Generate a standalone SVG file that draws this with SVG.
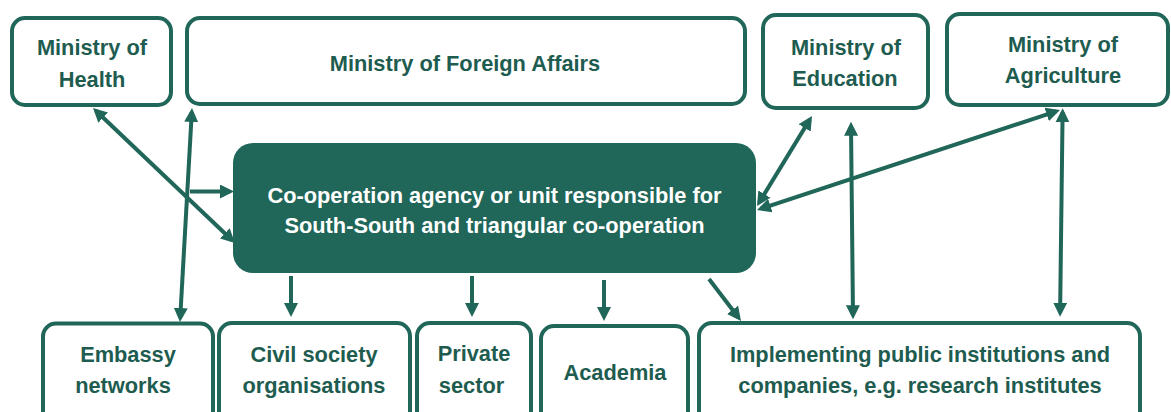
<svg xmlns="http://www.w3.org/2000/svg" width="1171" height="412" viewBox="0 0 1171 412">
  <style>
    .box { fill: #ffffff; stroke: #206659; stroke-width: 4; }
    .hub { fill: #206659; }
    .lbl { font-family: "Liberation Sans", Arial, sans-serif; font-weight: bold; font-size: 21.8px; fill: #1e5c50; text-anchor: middle; }
    .hubtxt { fill: #ffffff; }
    .link { stroke: #206659; stroke-width: 4; fill: none; }
    .both { marker-start: url(#ah); marker-end: url(#ah); }
    .one { marker-end: url(#ah); }
  </style>
  <defs>
    <marker id="ah" viewBox="0 0 14 14" markerWidth="14" markerHeight="14" refX="10" refY="7" orient="auto-start-reverse" markerUnits="userSpaceOnUse">
      <path d="M0,0 L14,7 L0,14 z" fill="#206659"/>
    </marker>
  </defs>

  <rect width="1171" height="412" fill="#ffffff"/>

  <!-- connectors -->
  <g id="connectors">
    <line class="link both" x1="95.9" y1="110.8" x2="232.1" y2="240.2"/>
    <line class="link both" x1="191.8" y1="112" x2="180.2" y2="318"/>
    <line class="link one" x1="190" y1="191.5" x2="230" y2="191.5"/>
    <line class="link one" x1="291" y1="276" x2="291" y2="313"/>
    <line class="link one" x1="472" y1="276" x2="472" y2="313"/>
    <line class="link one" x1="604" y1="280" x2="604" y2="317"/>
    <line class="link one" x1="709" y1="279" x2="738.6" y2="317.8"/>
    <line class="link both" x1="809.9" y1="119.4" x2="759.1" y2="202.6"/>
    <line class="link both" x1="1056.2" y1="111.3" x2="760.8" y2="208.7"/>
    <line class="link both" x1="851" y1="125.7" x2="853" y2="315.3"/>
    <line class="link both" x1="1062.6" y1="112.3" x2="1060.1" y2="312.7"/>
  </g>

  <!-- ministries -->
  <g id="health">
    <rect class="box" x="12" y="18" width="159" height="87" rx="13"/>
    <text class="lbl" x="92" y="55">Ministry of</text>
    <text class="lbl" x="92" y="86.5">Health</text>
  </g>
  <g id="foreign-affairs">
    <rect class="box" x="187" y="18" width="558" height="86" rx="13"/>
    <text class="lbl" x="465" y="71">Ministry of Foreign Affairs</text>
  </g>
  <g id="education">
    <rect class="box" x="763" y="15" width="165" height="93" rx="13"/>
    <text class="lbl" x="846" y="55">Ministry of</text>
    <text class="lbl" x="845" y="86">Education</text>
  </g>
  <g id="agriculture">
    <rect class="box" x="947" y="14" width="221" height="91" rx="13"/>
    <text class="lbl" x="1063" y="52">Ministry of</text>
    <text class="lbl" x="1063" y="83">Agriculture</text>
  </g>

  <!-- central agency -->
  <g id="agency">
    <rect class="hub" x="233" y="143" width="523" height="130" rx="20"/>
    <text class="lbl hubtxt" x="494.5" y="203">Co-operation agency or unit responsible for</text>
    <text class="lbl hubtxt" x="494.5" y="233">South-South and triangular co-operation</text>
  </g>

  <!-- partners -->
  <g id="embassy">
    <rect class="box" x="43" y="323.5" width="170" height="120" rx="13"/>
    <text class="lbl" x="128" y="362">Embassy</text>
    <text class="lbl" x="123" y="393">networks</text>
  </g>
  <g id="civil-society">
    <rect class="box" x="219" y="323" width="191" height="120" rx="13"/>
    <text class="lbl" x="314" y="362">Civil society</text>
    <text class="lbl" x="314" y="393">organisations</text>
  </g>
  <g id="private-sector">
    <rect class="box" x="417" y="323" width="114" height="120" rx="13"/>
    <text class="lbl" x="474" y="361">Private</text>
    <text class="lbl" x="471.5" y="393">sector</text>
  </g>
  <g id="academia">
    <rect class="box" x="541" y="326" width="147" height="120" rx="13"/>
    <text class="lbl" x="615" y="380">Academia</text>
  </g>
  <g id="implementing">
    <rect class="box" x="699" y="323" width="441" height="120" rx="13"/>
    <text class="lbl" x="920" y="362">Implementing public institutions and</text>
    <text class="lbl" x="920" y="393">companies, e.g. research institutes</text>
  </g>
</svg>
